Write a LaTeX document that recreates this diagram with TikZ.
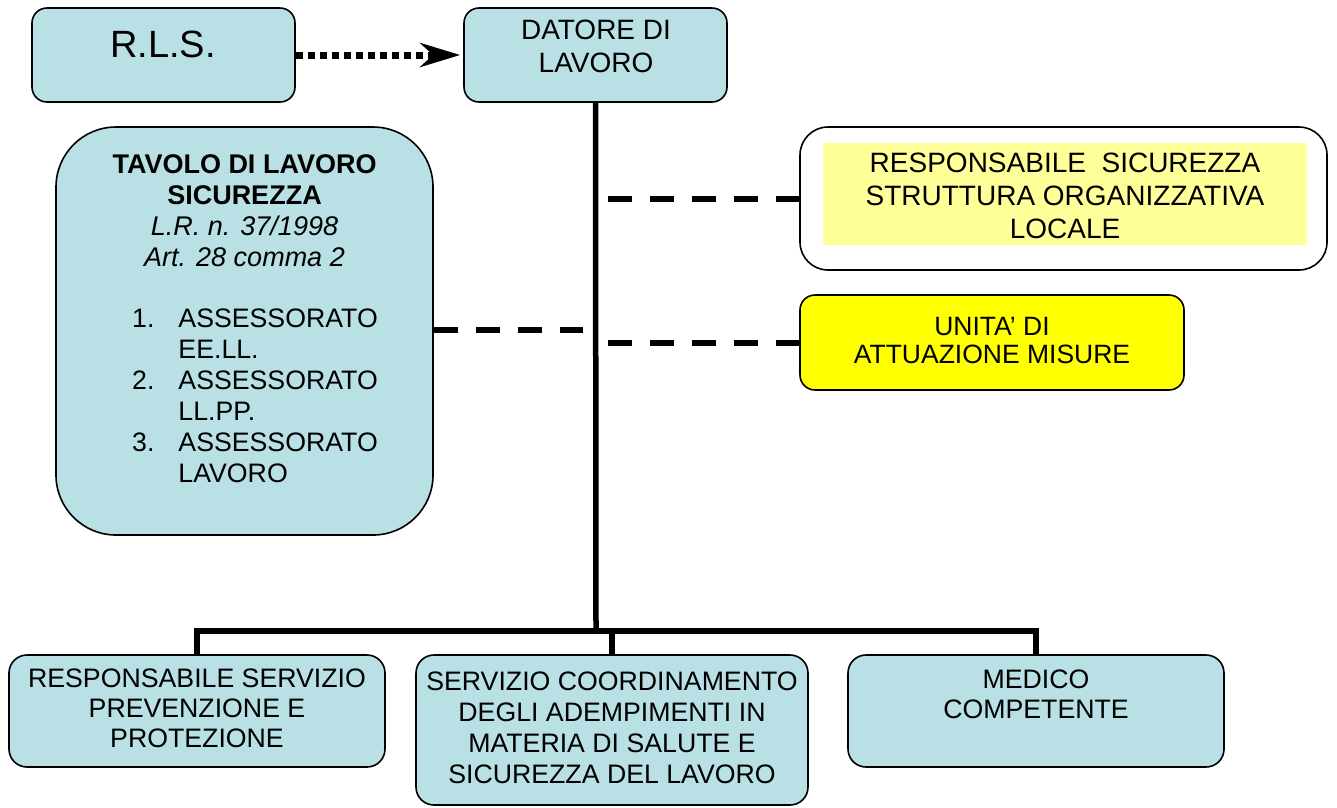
\documentclass[tikz,border=0pt]{standalone}
\usepackage{fontspec}
\setmainfont{Liberation Sans}
\usetikzlibrary{arrows.meta}
\definecolor{lblue}{RGB}{185,224,228}
\definecolor{pyellow}{RGB}{255,255,153}
\definecolor{byellow}{RGB}{255,255,0}
\newcommand{\mlines}[1]{\begin{tabular}[t]{@{}c@{}}#1\end{tabular}}
\begin{document}
\begin{tikzpicture}[x=1pt,y=-1pt,
  box/.style={draw=black, line width=1.6pt, fill=lblue, inner sep=0pt, rounded corners=#1},
  box/.default=16pt,
  txt/.style={inner sep=0pt, anchor=base, font=\fontsize{26.7}{30}\selectfont},
  trunk/.style={line width=5.5pt},
  dashline/.style={line width=6pt, dash pattern=on 24pt off 18pt}]
\useasboundingbox (0,0) rectangle (1337,807);
\fill[white] (0,0) rectangle (1337,807);

% boxes
\node[box=15pt, minimum width=263pt, minimum height=94pt] (rls) at (163.5,55) {};
\node[box=15pt, minimum width=263pt, minimum height=94pt] (dat) at (595.5,55) {};
\node[box=60pt, minimum width=377pt, minimum height=408pt] (tav) at (244.5,331) {};
\node[box=28pt, fill=white, minimum width=527pt, minimum height=143pt] (rsc) at (1063.5,198.5) {};
\node[fill=pyellow, inner sep=0pt, minimum width=484pt, minimum height=102pt] (rscin) at (1065,194) {};
\node[box=15pt, fill=byellow, minimum width=384pt, minimum height=95pt] (uam) at (992,342.5) {};
\node[box=18pt, minimum width=376pt, minimum height=112pt] (bl) at (197,711) {};
\node[box=18pt, minimum width=392pt, minimum height=150pt] (bc) at (612,730) {};
\node[box=18pt, minimum width=376pt, minimum height=112pt] (br) at (1036,711) {};

% texts
\node[txt, font=\fontsize{38}{40}\selectfont] (trls) at (163,57) {R.L.S.};
\node[txt, font=\fontsize{28}{33}\selectfont] (tdat) at (596,39) {\mlines{DATORE DI\\LAVORO}};
\node[txt, font=\fontsize{27}{31}\selectfont] (ttav) at (244.5,173)
  {\mlines{\textbf{TAVOLO DI LAVORO}\\\textbf{SICUREZZA}\\\textit{L.R. n. 37/1998}\\\textit{Art. 28 comma 2}}};
\node[inner sep=0pt, anchor=base west, font=\fontsize{26.7}{31}\selectfont] (tlist) at (132,327)
  {\begin{tabular}[t]{@{}l@{\hspace{24pt}}l@{}}1.&ASSESSORATO\\&EE.LL.\\2.&ASSESSORATO\\&LL.PP.\\3.&ASSESSORATO\\&LAVORO\end{tabular}};
\node[txt, font=\fontsize{28}{33}\selectfont] (trsc) at (1065,172)
  {\mlines{RESPONSABILE\ \ SICUREZZA\\STRUTTURA ORGANIZZATIVA\\LOCALE}};
\node[txt, font=\fontsize{26.5}{28}\selectfont] (tuam) at (992,335) {\mlines{UNITA’ DI\\ATTUAZIONE MISURE}};
\node[txt] (tbl) at (197,687) {\mlines{RESPONSABILE SERVIZIO\\PREVENZIONE E\\PROTEZIONE}};
\node[txt, font=\fontsize{26.7}{31}\selectfont] (tbc) at (612,690)
  {\mlines{SERVIZIO COORDINAMENTO\\DEGLI ADEMPIMENTI IN\\MATERIA DI SALUTE E\\SICUREZZA DEL LAVORO}};
\node[txt] (tbr) at (1036,688) {\mlines{MEDICO\\COMPETENTE}};

% connectors
\draw[line width=7pt, dash pattern=on 7pt off 5pt,
  -{Stealth[length=40pt,width=24pt,inset=13pt]}] (rls.east) -- ([xshift=-3pt]dat.west);

\coordinate (hub) at (596,631);
\draw[trunk] (dat.south) -- (hub);
\draw[trunk] (bl.north) |- (hub) -| (br.north);
\draw[trunk] (hub) -| (bc.north);

\coordinate (d1) at (608,199);
\coordinate (d2) at (608,343);
\coordinate (d3) at (583,330);
\draw[dashline] (d1) -- (d1 -| rsc.west);
\draw[dashline] (d2) -- (d2 -| uam.west);
\draw[dashline] (tav.east |- d3) -- (d3);
\end{tikzpicture}
\end{document}
